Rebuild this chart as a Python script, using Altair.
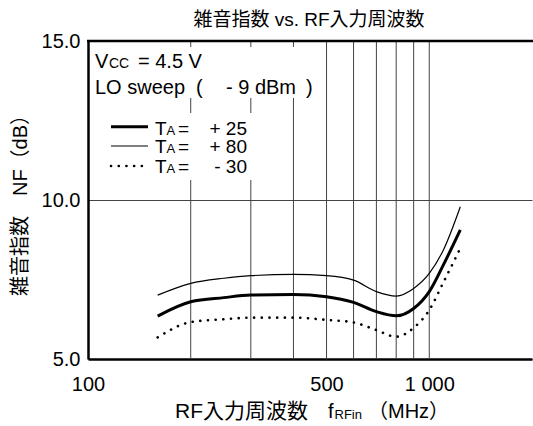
import altair as alt
import pandas as pd

# ---- data ----
freq = [160, 200, 250, 300, 400, 500, 600, 700, 800, 900, 1000, 1100, 1233]
nf_p25 = [6.35, 6.80, 6.93, 7.01, 7.03, 6.96, 6.78, 6.49, 6.36, 6.59, 7.12, 7.96, 9.06]
nf_p80 = [7.01, 7.38, 7.54, 7.62, 7.66, 7.62, 7.48, 7.12, 6.98, 7.22, 7.69, 8.43, 9.79]
nf_m30 = [5.68, 6.16, 6.25, 6.30, 6.30, 6.23, 6.15, 5.91, 5.70, 5.98, 6.54, 7.41, 8.48]
series_labels = ["+ 25", "+ 80", "- 30"]
grid_freqs = [200, 300, 400, 500, 600, 700, 800, 900, 1000]
x_tick_values = [100, 500, 1000]
y_tick_values = [5, 10, 15]
x_domain = [100, 2000]
y_domain = [5, 15]

W, H = 444, 318
FONT = "Liberation Sans, Noto Sans CJK JP, sans-serif"

xscale = alt.Scale(type="log", domain=x_domain)
yscale = alt.Scale(domain=y_domain)

def series_df(vals):
    return pd.DataFrame({"freq": freq, "nf": vals})

dummy = pd.DataFrame({"a": [0]})

x_axis = alt.Axis(values=x_tick_values,
                  labelExpr="datum.value == 1000 ? '1 000' : format(datum.value, 'd')",
                  grid=False, ticks=False, tickSize=0, domain=True, domainColor="black", domainWidth=2.5,
                  labelFontSize=20, labelFont=FONT, labelColor="black", labelPadding=15,
                  labelFlush=False, labelOverlap=False, title=None)
y_axis = alt.Axis(values=y_tick_values, format=".1f", grid=True, gridColor="#444", gridWidth=1,
                  ticks=False, tickSize=0, domain=True, domainColor="black", domainWidth=2.5,
                  labelFontSize=20, labelFont=FONT, labelColor="black", labelPadding=8,
                  labelFlush=False, labelOverlap=False,
                  title="雑音指数　NF（dB）", titleFont=FONT, titleFontSize=20, titleFontWeight="normal",
                  titleColor="black", titleX=-68, titleY=159, titleAngle=-90, titleBaseline="middle",
                  titleAlign="center")

def X(field):
    return alt.X(field, scale=xscale, axis=x_axis)

def Y(field):
    return alt.Y(field, scale=yscale, axis=y_axis)

grid = alt.Chart(pd.DataFrame({"freq": grid_freqs})).mark_rule(color="#444", strokeWidth=1).encode(
    x=X("freq:Q")
)

top_border = alt.Chart(dummy).mark_rule(color="black", strokeWidth=2.5).encode(
    x=alt.value(-1), x2=alt.value(W + 2), y=alt.value(0)
)

box1 = alt.Chart(dummy).mark_rect(fill="white").encode(
    x=alt.value(2), x2=alt.value(230), y=alt.value(6), y2=alt.value(57)
)
box2 = alt.Chart(dummy).mark_rect(fill="white").encode(
    x=alt.value(2), x2=alt.value(168), y=alt.value(72), y2=alt.value(139)
)

def line_layer(vals, **style):
    return alt.Chart(series_df(vals)).mark_line(color="black", interpolate="monotone", **style).encode(
        x=X("freq:Q"), y=Y("nf:Q"),
    )

l25 = line_layer(nf_p25, strokeWidth=3)
l80 = line_layer(nf_p80, strokeWidth=1.2)
lm30 = line_layer(nf_m30, strokeWidth=2.6, strokeDash=[0.1, 7.6], strokeCap="round")

def txt(s, x, y, size=20, align="left"):
    return alt.Chart(dummy).mark_text(text=s, align=align, baseline="alphabetic", fontSize=size,
                                      font=FONT, color="black").encode(x=alt.value(x), y=alt.value(y))

title = txt("雑音指数 vs. RF入力周波数", W / 2 - 1, -15, size=19, align="center")

annot = [
    txt("V", 7, 27.3),
    txt("CC", 21, 27.3, size=14),
    txt("= 4.5 V", 50, 27.3),
    txt("LO sweep", 7, 53),
    txt("(", 108, 53),
    txt("- 9 dBm", 138, 53),
    txt(")", 218, 53),
]

# legend samples
leg_rows = [(85.7, 94, {"strokeWidth": 3}), (105, 112.3, {"strokeWidth": 1.2}),
            (125, 132.3, {"strokeWidth": 2.6, "strokeDash": [0.1, 7.6], "strokeCap": "round"})]
legend = []
for (ly, ty, st), lab in zip(leg_rows, series_labels):
    legend.append(alt.Chart(dummy).mark_rule(color="black", **st).encode(
        x=alt.value(23), x2=alt.value(60), y=alt.value(ly)))
    legend.append(txt("T", 67, ty, size=19))
    legend.append(txt("A", 78.5, ty, size=13))
    legend.append(txt("=", 90, ty, size=19))
    legend.append(txt(lab, 159, ty, size=19, align="right"))

# x-axis title pieces
xtitle = [
    txt("RF入力周波数", 87, 376.7, size=21),
    txt("f", 240, 376.7),
    txt("RFin", 246.5, 377.7, size=13),
    txt("（MHz）", 280, 376.7),
]

chart = alt.layer(
    grid, top_border, box1, box2, l80, l25, lm30, title, *annot, *legend, *xtitle
).properties(
    width=W, height=H,
    autosize=alt.AutoSizeParams(type="none"),
    padding={"left": 88, "top": 41, "right": 1, "bottom": 67},
).configure_view(stroke=None)

chart.save("out.html", embed_options={"renderer": "svg", "actions": False})
